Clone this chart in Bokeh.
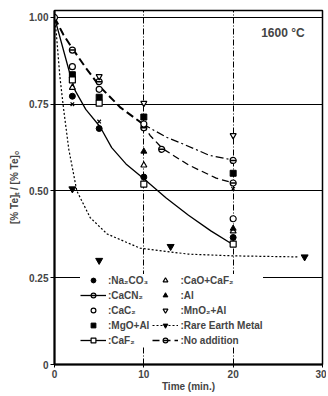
from bokeh.plotting import figure
from bokeh.models import Range1d, FixedTicker, Legend, LegendItem, Label, NumeralTickFormatter
from bokeh.embed import file_html
from bokeh.resources import INLINE

# ---- measured points ----
na2co3_t = [2, 5, 10, 20]
na2co3_v = [0.773, 0.68, 0.54, 0.366]
cacn2_t = [2, 5, 10, 20]
cacn2_v = [0.906, 0.815, 0.682, 0.588]
cac2_t = [0, 2, 5, 10, 20]
cac2_v = [1.0, 0.858, 0.793, 0.693, 0.42]
mgoal_t = [2, 5, 10, 20]
mgoal_v = [0.835, 0.77, 0.713, 0.551]
caf2_t = [2, 5, 10, 20]
caf2_v = [0.82, 0.753, 0.52, 0.347]
caocaf2_t = [2, 10, 20]
caocaf2_v = [0.798, 0.574, 0.384]
al_t = [10, 20]
al_v = [0.614, 0.392]
mno2al_t = [5, 10, 20]
mno2al_v = [0.83, 0.753, 0.66]
rem_t = [2, 5, 13, 28]
rem_v = [0.506, 0.30, 0.34, 0.31]
noadd_t = [12, 20]
noadd_v = [0.62, 0.523]
extra_t = [2, 5, 20]
extra_v = [0.75, 0.70, 0.506]

# ---- drawn (fitted) curves ----
solid_t = [0, 0.8, 1.7, 2.3, 3.5, 5.1, 6.4, 8, 10, 12.5, 15, 17.5, 20]
solid_v = [1.0, 0.925, 0.84, 0.79, 0.735, 0.685, 0.625, 0.578, 0.535, 0.48, 0.43, 0.385, 0.345]
upper_t = [0, 1, 2.15, 3.5, 5.1, 7.4, 9.9]
upper_v = [1.0, 0.95, 0.905, 0.855, 0.80, 0.74, 0.693]
branch_a_t = [9.9, 12.5, 14.7, 17.3, 20]
branch_a_v = [0.693, 0.655, 0.632, 0.603, 0.589]
branch_b_t = [9.9, 10.7, 12.1, 15, 18.1, 20]
branch_b_v = [0.693, 0.66, 0.622, 0.575, 0.537, 0.523]
rem_curve_t = [0, 0.2, 0.6, 1.0, 1.6, 2.5, 4, 5.9, 9.6, 15, 20, 27.3]
rem_curve_v = [1.0, 0.955, 0.83, 0.74, 0.62, 0.50, 0.423, 0.376, 0.335, 0.318, 0.313, 0.31]

x_ticks = [0, 10, 20, 30]
y_ticks = [0, 0.25, 0.5, 0.75, 1.0]

FONT = "Liberation Sans"

p = figure(width=326, height=394, x_range=Range1d(0, 30), y_range=Range1d(0, 1.02),
           output_backend="svg", toolbar_location=None, title=None,
           min_border_left=54, min_border_right=4, min_border_top=10, min_border_bottom=26)
p.background_fill_color = "white"
p.border_fill_color = "white"
p.outline_line_color = "black"
p.outline_line_width = 1.5

for ax in (p.xaxis[0], p.yaxis[0]):
    ax.axis_line_width = 2
    ax.major_tick_in = 0
    ax.minor_tick_line_color = None
    ax.major_label_text_font = FONT
    ax.major_label_text_font_style = "bold"
    ax.major_label_text_font_size = "10px"
    ax.axis_label_text_font = FONT
    ax.axis_label_text_font_style = "bold"
    ax.axis_label_text_font_size = "10px"
    ax.major_label_standoff = 2

p.xaxis.major_tick_out = 3
p.yaxis.major_tick_out = 4
p.xaxis.ticker = FixedTicker(ticks=x_ticks)
p.yaxis.ticker = FixedTicker(ticks=y_ticks)
p.yaxis.formatter = NumeralTickFormatter(format="0.00")
p.yaxis.major_label_overrides = {0: "0"}
p.xaxis.axis_label = "Time (min.)"
p.xaxis.axis_label_standoff = 0
p.yaxis.axis_label = "[% Te]ₜ / [% Te]ₒ"
p.yaxis.axis_label_standoff = 6

p.ygrid.ticker = FixedTicker(ticks=[0.25, 0.5, 0.75, 1.0])
p.ygrid.grid_line_color = "black"
p.ygrid.grid_line_width = 1
p.xgrid.ticker = FixedTicker(ticks=[10, 20])
p.xgrid.grid_line_color = "black"
p.xgrid.grid_line_width = 1
p.xgrid.grid_line_dash = "6 2 1 2"

# curves
r_solid = p.line(solid_t, solid_v, line_color="black", line_width=1.3)
r_upper = p.line(upper_t, upper_v, line_color="black", line_width=2, line_dash="8 4")
r_a = p.line(branch_a_t, branch_a_v, line_color="black", line_width=1.2, line_dash="8 3 2 3")
r_b = p.line(branch_b_t, branch_b_v, line_color="black", line_width=1.3, line_dash="7 4")
r_rem = p.line(rem_curve_t, rem_curve_v, line_color="black", line_width=1.2, line_dash="2 2")

MS = 6
r_na = p.scatter(na2co3_t, na2co3_v, marker="circle", size=MS, fill_color="black", line_color="black")
r_cn_c = p.scatter(cacn2_t, cacn2_v, marker="circle", size=MS, fill_color="white", line_color="black", line_width=1.2)
r_cn_d = p.scatter(cacn2_t, cacn2_v, marker="dash", size=MS, line_color="black", line_width=1.5)
r_cc = p.scatter(cac2_t, cac2_v, marker="circle", size=MS, fill_color="white", line_color="black", line_width=1.2)
r_mg = p.scatter(mgoal_t, mgoal_v, marker="square", size=MS, fill_color="black", line_color="black")
r_cf = p.scatter(caf2_t, caf2_v, marker="square", size=MS, fill_color="white", line_color="black", line_width=1.2)
r_co = p.scatter(caocaf2_t, caocaf2_v, marker="triangle", size=MS, fill_color="white", line_color="black", line_width=1.2)
r_al = p.scatter(al_t, al_v, marker="triangle", size=MS, fill_color="black", line_color="black")
r_mn = p.scatter(mno2al_t, mno2al_v, marker="inverted_triangle", size=MS, fill_color="white", line_color="black", line_width=1.2)
r_re = p.scatter(rem_t, rem_v, marker="inverted_triangle", size=MS + 1, fill_color="black", line_color="black")
r_no_c = p.scatter(noadd_t, noadd_v, marker="circle", size=MS, fill_color="white", line_color="black", line_width=1.2)
r_no_d = p.scatter(noadd_t, noadd_v, marker="dash", size=MS, line_color="black", line_width=1.5)
p.scatter(extra_t, extra_v, marker="x", size=5, line_color="black", line_width=1.2)

items = [
    LegendItem(label=":Na₂CO₃", renderers=[r_na]),
    LegendItem(label=":CaCN₂", renderers=[r_solid, r_cn_c, r_cn_d]),
    LegendItem(label=":CaC₂", renderers=[r_cc]),
    LegendItem(label=":MgO+Al", renderers=[r_mg]),
    LegendItem(label=":CaF₂", renderers=[r_solid, r_cf]),
    LegendItem(label=":CaO+CaF₂", renderers=[r_co]),
    LegendItem(label=":Al", renderers=[r_al]),
    LegendItem(label=":MnO₂+Al", renderers=[r_mn]),
    LegendItem(label=":Rare Earth Metal", renderers=[r_rem, r_re]),
    LegendItem(label=":No addition", renderers=[r_b, r_no_c, r_no_d]),
]
legend = Legend(items=items, ncols=2, location=(26, 18),
                border_line_color=None, background_fill_color="white", background_fill_alpha=1,
                label_text_font=FONT, label_text_font_style="bold", label_text_font_size="10px",
                glyph_width=26, glyph_height=12, label_height=12, spacing=3, padding=3,
                label_standoff=2, margin=0)
p.add_layout(legend)

p.add_layout(Label(x=28, y=0.955, text="1600 °C", text_align="right", text_baseline="middle",
                   text_font=FONT, text_font_style="bold", text_font_size="12px"))

open("out.html", "w").write(file_html(p, INLINE))
